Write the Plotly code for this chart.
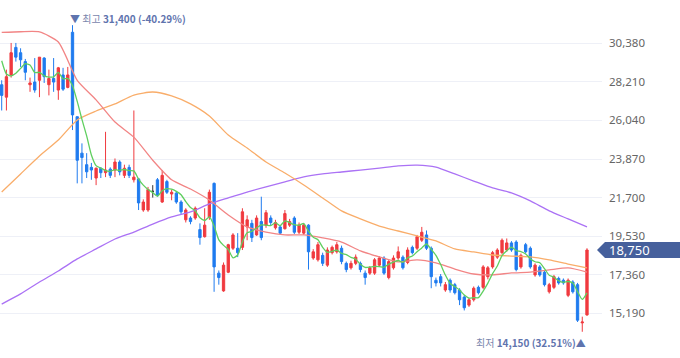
import plotly.graph_objects as go

# ---------------- data ----------------
opens = [28050, 27350, 28600, 30150, 29850, 29350, 28050, 28200, 28300, 29550,
         28050, 28400, 27750, 28600, 27900, 31000, 26250, 24200, 23550, 23400,
         22800, 23350, 23100, 23300, 23250, 23700, 22950, 23400, 22700, 22750,
         21000, 21000, 22050, 22700, 21450, 22600, 21900, 21950, 21450, 20450,
         20550, 20550, 19900, 19500, 20600, 22500, 17450, 16450, 17500, 18850,
         18850, 18900, 20050, 20250, 19600, 20350, 20150, 20550, 20000, 20050,
         19950, 20150, 20550, 19750, 19700, 20150, 18300, 18200, 18450, 17900,
         18600, 18650, 18850, 18000, 17750, 18000, 18000, 17450, 17450, 17450,
         17900, 18300, 17200, 17750, 18300, 18350, 18050, 18900, 18850, 19300,
         19600, 18850, 17050, 17250, 16500, 17050, 16800, 16500, 16100, 15650,
         15950, 16650, 16650, 17250, 17800, 18350, 18600, 18750, 19150, 19200,
         17800, 19050, 18850, 17350, 17800, 17500, 16400, 16650, 17150, 17050,
         16200, 16950, 16800, 14650, 15100]
highs = [28300, 28900, 30400, 30400, 30100, 29500, 28450, 29550, 29600, 29600,
         28900, 29550, 29050, 29000, 29050, 31400, 26250, 24750, 24200, 23650,
         23400, 23400, 25400, 23400, 23900, 23800, 23550, 23550, 26600, 22800,
         21600, 22300, 22400, 22800, 23250, 22700, 22150, 22050, 21550, 21100,
         20650, 21200, 20250, 21100, 22150, 22550, 17600, 18050, 19100, 19700,
         19700, 21100, 20700, 20450, 20700, 21750, 21000, 20700, 20450, 20150,
         21000, 20500, 20650, 20300, 20250, 20200, 18800, 19200, 18600, 18900,
         19000, 19200, 19000, 18100, 18150, 18500, 18100, 17600, 17850, 18300,
         18400, 18400, 18200, 18450, 18950, 18450, 18900, 19000, 19600, 20050,
         19850, 18950, 17200, 17400, 16950, 17150, 16900, 16600, 16200, 16050,
         16700, 16750, 17900, 17850, 18700, 18850, 19400, 19400, 19250, 19300,
         18550, 19150, 18950, 18000, 17900, 17600, 16900, 17350, 17250, 17150,
         17150, 17050, 16900, 15000, 18850]
lows = [26600, 26600, 28450, 29350, 29050, 28300, 27650, 27600, 27350, 28150,
        27450, 27650, 27200, 27700, 27850, 25500, 22500, 22500, 22800, 22700,
        22400, 22800, 22850, 22800, 22850, 22950, 22800, 22800, 22550, 21000,
        20900, 20900, 21700, 21750, 21400, 21900, 21550, 21350, 20750, 20300,
        20200, 20450, 19050, 19450, 20450, 16400, 16800, 16400, 17450, 18750,
        18350, 18750, 19300, 19200, 19550, 19300, 20000, 20150, 19900, 19600,
        19900, 20050, 19650, 19650, 19600, 17650, 18200, 18100, 17850, 17800,
        18500, 18550, 17950, 17500, 17650, 17900, 17500, 16800, 17350, 17350,
        17800, 17350, 17100, 17650, 18200, 17650, 17950, 18500, 18750, 19200,
        18750, 16600, 16700, 16700, 16400, 16350, 16250, 15650, 15350, 15550,
        15850, 16250, 16550, 17100, 17700, 18250, 18500, 18650, 18650, 17550,
        17700, 18550, 17700, 17250, 17250, 16700, 16300, 16550, 16800, 16800,
        16100, 16300, 14700, 14150, 15050]
closes = [27450, 28500, 29850, 29600, 29450, 28750, 28150, 27750, 29600, 28500,
          28400, 28200, 29000, 27800, 28600, 26350, 23800, 23950, 23150, 23250,
          23350, 23100, 23250, 22950, 23700, 23150, 23350, 22950, 22850, 21400,
          21450, 22150, 22050, 21850, 22950, 22000, 22000, 21450, 20900, 21000,
          20350, 21100, 19450, 20150, 22000, 17800, 17200, 17900, 19050, 19600,
          18600, 20900, 20450, 19450, 20550, 19450, 20850, 20300, 20300, 19700,
          20800, 20350, 19750, 20150, 20150, 18650, 18650, 19050, 18000, 18750,
          18900, 19050, 18100, 17650, 18000, 18350, 17650, 17200, 17750, 18200,
          18300, 17450, 18100, 18300, 18650, 17750, 18750, 18600, 19500, 19750,
          18850, 17250, 16900, 16900, 16800, 16500, 16350, 15950, 15500, 15950,
          16600, 16350, 17800, 17750, 18600, 18750, 19300, 19150, 18750, 17650,
          18450, 18650, 17800, 17900, 17350, 16800, 16800, 17250, 16900, 16900,
          17050, 16400, 14800, 14700, 18750]

# moving averages (5-day head values read, rest from closes; longer ones read every 4 sessions)
ma5_head = [29400, 28650, 28550, 28700]
ma_idx = list(range(0, 125, 4))
ma20 = [30990, 31030, 31020, 30450, 28300, 27200, 25950, 25100, 23800, 22700,
        22180, 21560, 20720, 20050, 19760, 19600, 19600, 19430, 19200, 18700,
        18360, 18080, 18190, 18020, 17680, 17400, 17350, 17460, 17510, 17630,
        17740, 17510]
ma60 = [22010, 23030, 24040, 24940, 26070, 26570, 26970, 27470, 27640, 27420,
        26970, 26290, 25220, 24490, 23700, 23080, 22410, 21680, 20950, 20500,
        20100, 19820, 19540, 19260, 18810, 18640, 18470, 18410, 18360, 18190,
        17960, 17740]
ma120 = [15710, 16280, 16950, 17570, 18250, 18810, 19370, 19760, 20210, 20610,
         20890, 21340, 21680, 22010, 22300, 22580, 22860, 23030, 23140, 23250,
         23360, 23480, 23530, 23420, 23030, 22630, 22240, 21960, 21510, 20950,
         20500, 20050]

tick_vals = [15190, 17360, 19530, 21700, 23870, 26040, 28210, 30380]
tick_text = ["15,190", "17,360", "19,530", "21,700", "23,870", "26,040", "28,210", "30,380"]

last_price = 18750
high_price, high_idx, high_pct = 31400, 15, "-40.29%"
low_price, low_idx, low_pct = 14150, 123, "32.51%"

# ---------------- styles ----------------
UP = "#f03a3f"
DOWN = "#1f7bef"
FLAT = "#333333"
C_MA5 = "#5fcf5f"
C_MA20 = "#f28585"
C_MA60 = "#f9ad6a"
C_MA120 = "#ab72f5"
BOX = "#46609c"

n = len(closes)
xs = list(range(n))
ma5 = ma5_head + [sum(closes[i - 4:i + 1]) / 5 for i in range(4, n)]

fig = go.Figure()


def add_candles(idx, color):
    if not idx:
        return
    fig.add_trace(go.Candlestick(
        x=[xs[i] for i in idx],
        open=[opens[i] for i in idx],
        high=[highs[i] for i in idx],
        low=[lows[i] for i in idx],
        close=[closes[i] for i in idx],
        increasing=dict(line=dict(color=color, width=1), fillcolor=color),
        decreasing=dict(line=dict(color=color, width=1), fillcolor=color),
        whiskerwidth=0,
        hoverinfo="skip",
        showlegend=False,
    ))


add_candles([i for i in xs if closes[i] > opens[i]], UP)
add_candles([i for i in xs if closes[i] < opens[i]], DOWN)
add_candles([i for i in xs if closes[i] == opens[i]], FLAT)

for vals, xv, col in [(ma120, ma_idx, C_MA120), (ma60, ma_idx, C_MA60),
                      (ma20, ma_idx, C_MA20), (ma5, xs, C_MA5)]:
    fig.add_trace(go.Scatter(x=xv, y=vals, mode="lines",
                             line=dict(color=col, width=1.3, shape="spline", smoothing=0.6),
                             hoverinfo="skip", showlegend=False))

W, H = 680, 358
ML, MR, MT, MB = 0, 78, 0, 0
plot_w = W - ML - MR

# current price tag
tip = 597 / plot_w
left = 605 / plot_w
right = 681 / plot_w
half = 450
fig.add_shape(type="path", xref="paper", yref="y",
              path=f"M {tip},{last_price} L {left},{last_price + half} L {right},{last_price + half} "
                   f"L {right},{last_price - half} L {left},{last_price - half} Z",
              fillcolor=BOX, line=dict(width=0), layer="above")
fig.add_annotation(xref="paper", yref="y", x=607 / plot_w, y=last_price, xanchor="left",
                   yanchor="middle", text=f"{last_price:,}", showarrow=False,
                   font=dict(family="Noto Sans, sans-serif", size=13, color="white"))

# high / low annotations
fig.add_annotation(x=high_idx, y=high_price, xanchor="left", yanchor="middle",
                   xshift=-5, yshift=7, showarrow=False,
                   text=f"<span style='color:#5f74ae'>▼</span> <span style='color:#7a86ad'>최고</span> "
                        f"<b>{high_price:,} ({high_pct})</b>",
                   font=dict(family="Noto Sans CJK KR, sans-serif", size=10, color="#5f74ae"))
fig.add_annotation(x=low_idx, y=low_price, xanchor="right", yanchor="middle",
                   xshift=6, yshift=-11, showarrow=False,
                   text=f"<span style='color:#7a86ad'>최저</span> <b>{low_price:,} ({low_pct})</b>"
                        f"<span style='color:#5f74ae'>▲</span>",
                   font=dict(family="Noto Sans CJK KR, sans-serif", size=10, color="#5f74ae"))

fig.update_layout(
    width=W, height=H,
    margin=dict(l=ML, r=MR, t=MT, b=MB),
    paper_bgcolor="white", plot_bgcolor="white",
    showlegend=False,
    xaxis=dict(range=[-0.36, 127.18], visible=False, rangeslider=dict(visible=False),
               fixedrange=True),
    yaxis=dict(range=[12675, 32816], side="right", tickvals=tick_vals, ticktext=tick_text,
               showgrid=True, gridcolor="#eef0f7", gridwidth=1, zeroline=False, showline=False,
               ticks="", ticklabelstandoff=6, fixedrange=True,
               tickfont=dict(family="Noto Sans, sans-serif", size=11.5, color="#666666")),
)

fig.write_html("out.html", config={"staticPlot": True},
               post_script="document.body.style.margin='0';document.body.style.overflow='hidden';")
